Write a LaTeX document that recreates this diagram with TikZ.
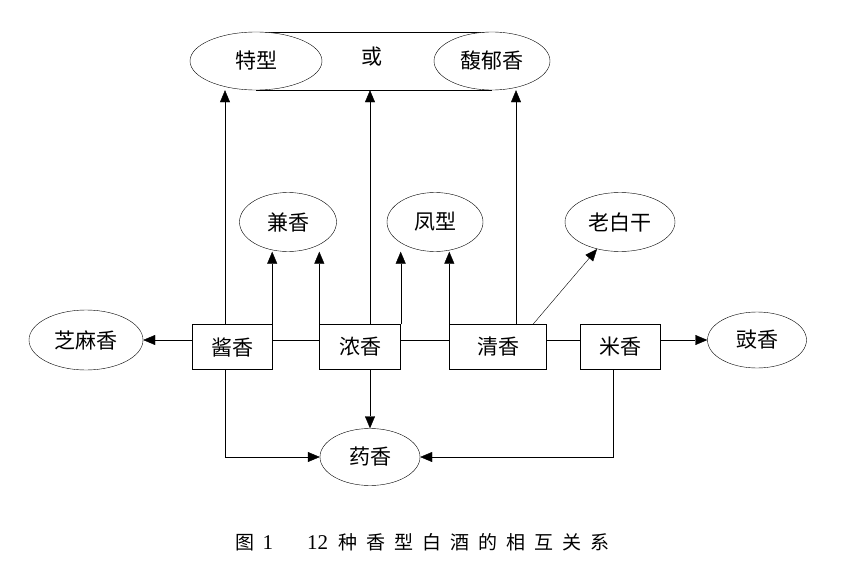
\documentclass[tikz,border=0pt]{standalone}
\usepackage{fontspec}
\setmainfont{Liberation Serif}
\newfontfamily\cjk{Noto Sans CJK SC}
\usetikzlibrary{arrows.meta,shapes.geometric}
\pgfdeclarelayer{bg}
\pgfsetlayers{bg,main}
\begin{document}
\begin{tikzpicture}[x=1pt,y=-1pt,
  line width=2pt,
  >={Triangle[length=12pt,width=10pt]},
  every node/.style={font=\cjk\fontsize{21}{21}\selectfont},
  ell/.style 2 args={ellipse,draw,fill=white,inner sep=0pt,minimum width=#1,minimum height=#2},
  box/.style 2 args={rectangle,draw,fill=white,inner sep=0pt,minimum width=#1,minimum height=#2}]
\begin{pgfonlayer}{bg}
\fill[white] (0,0) rectangle (859,578);
\end{pgfonlayer}
\useasboundingbox (0,0) rectangle (859,578);
\coordinate (lineY) at (0,340);
% top group
\node[ell={132}{58}] (tx) at (256,61) {特型};
\node[ell={116}{58}] (fy) at (492,61) {馥郁香};
\node (huo) at (372,57) {或};
% middle ellipses
\node[ell={97}{59}] (jx) at (288,222) {兼香};
\node[ell={96}{59}] (fx) at (435,222) {凤型};
\node[ell={110}{59}] (lb) at (620,222) {老白干};
% boxes
\node[box={80}{45}] (jiang) at (232,347) {酱香};
\node[box={81}{45}] (nong) at (360,347) {浓香};
\node[box={97}{45}] (qing) at (498,347) {清香};
\node[box={80}{45}] (mi) at (620,347) {米香};
% side ellipses
\node[ell={114}{60}] (zm) at (86,340) {芝麻香};
\node[ell={99}{56}] (chi) at (757,340) {豉香};
\node[ell={100}{57}] (yao) at (370,457) {药香};
\begin{pgfonlayer}{bg}
\draw (tx.north) -- (fy.north);
\draw (tx.south) -- (fy.south);
% horizontal links
\draw (jiang.east |- lineY) -- (nong.west |- lineY);
\draw (nong.east |- lineY) -- (qing.west |- lineY);
\draw (qing.east |- lineY) -- (mi.west |- lineY);
\end{pgfonlayer}
\draw[->] (jiang.west |- lineY) -- (zm.east);
\draw[->] (mi.east |- lineY) -- (chi.west);
% up to top
\draw[->] ([xshift=-7pt]jiang.north) -- ([xshift=-7pt]jiang.north |- tx.south);
\draw[->] ([xshift=10pt]nong.north) -- ([xshift=10pt]nong.north |- tx.south);
\draw[->] ([xshift=18pt]qing.north) -- ([xshift=18pt]qing.north |- fy.south);
% up to middle ellipses
\draw[->] (jiang.north east) -- (jiang.north east |- jx.south);
\draw[->] (nong.north west) -- (nong.north west |- jx.south);
\draw[->] (nong.north east) -- (nong.north east |- fx.south);
\draw[->] (qing.north west) -- (qing.north west |- fx.south);
\draw[->] ([xshift=35pt]qing.north) -- (lb);
% down to yao
\draw[->] ([xshift=-7pt]jiang.south) |- (yao.west);
\draw[->] (nong.south -| yao.north) -- (yao.north);
\draw[->] ([xshift=-7pt]mi.south) |- (yao.east);
% caption
\node[font=\fontsize{21}{21}\selectfont, anchor=base west] (cap) at (232,549)
  {{\cjk\fontsize{19}{19}\selectfont 图}\hspace{8pt}1\hspace{34pt}12\hspace{10pt}{\cjk\fontsize{19}{19}\selectfont 种\hspace{9pt}香\hspace{9pt}型\hspace{9pt}白\hspace{9pt}酒\hspace{9pt}的\hspace{9pt}相\hspace{9pt}互\hspace{9pt}关\hspace{9pt}系}};
\end{tikzpicture}
\end{document}
